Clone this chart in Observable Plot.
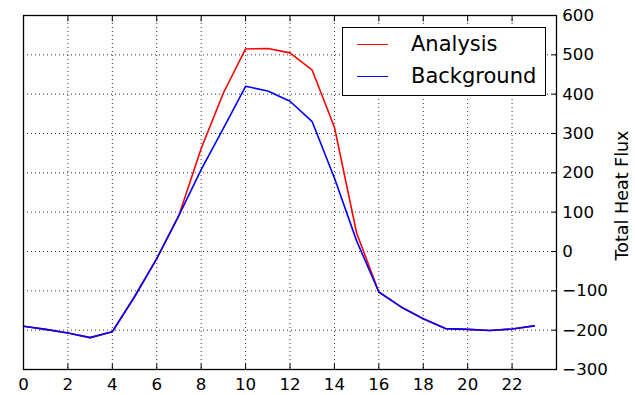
<!DOCTYPE html>
<html>
<head>
<meta charset="utf-8">
<script src="https://cdn.jsdelivr.net/npm/d3@7"></script>
<script src="https://cdn.jsdelivr.net/npm/@observablehq/plot@0.6"></script>
<style>
  html, body { margin: 0; padding: 0; background: #fff; }
  #chart { position: relative; width: 635px; height: 395px; font-family: "DejaVu Sans", sans-serif; }
  #legend { position: absolute; left: 342px; top: 27px; width: 202px; height: 67px; border: 1.3px solid #000; background: #fff; }
  .item { position: absolute; left: 0; height: 24px; font-size: 21px; color: #000; line-height: 24px; }
  .swatch { position: absolute; left: 14px; width: 31px; height: 0; border-top: 1.5px solid; }
  .lab { position: absolute; left: 68px; white-space: nowrap; }
</style>
</head>
<body>
<div id="chart"></div>
<script>
const hours = [0,1,2,3,4,5,6,7,8,9,10,11,12,13,14,15,16,17,18,19,20,21,22,23];
const analysis = [-190,-198,-207,-219,-204,-115,-18,92,262,403,515,516,505,461,316,47,-103,-141,-171,-196,-198,-201,-197,-189];
const background = [-190,-198,-207,-219,-204,-115,-18,92,208,313,420,408,382,330,187,27,-103,-141,-171,-196,-198,-201,-197,-189];
const seriesNames = ["Analysis", "Background"];
const seriesColors = ["#ff0000", "#0000ff"];
const xTicks = [0,2,4,6,8,10,12,14,16,18,20,22];
const yTicks = [-300,-200,-100,0,100,200,300,400,500,600];
const yLabel = "Total Heat Flux";

const rows = [];
hours.forEach((h, i) => {
  rows.push({hour: h, value: analysis[i], series: seriesNames[0]});
  rows.push({hour: h, value: background[i], series: seriesNames[1]});
});

const gridStyle = {stroke: "#000", strokeOpacity: 1, strokeWidth: 0.8, strokeDasharray: "1,3"};

const chart = Plot.plot({
  width: 635,
  height: 395,
  marginLeft: 23,
  marginRight: 79,
  marginTop: 15,
  marginBottom: 26,
  style: {fontFamily: "DejaVu Sans, sans-serif", fontSize: "16.67px", color: "#000", background: "#fff"},
  x: {domain: [0, 24]},
  y: {domain: [-300, 600]},
  color: {domain: seriesNames, range: seriesColors},
  marks: [
    Plot.gridX(xTicks.filter(d => d > 0), gridStyle),
    Plot.gridY(yTicks.filter(d => d > -300 && d < 600), gridStyle),
    Plot.line(rows, {x: "hour", y: "value", z: "series", stroke: "series", strokeWidth: 1.6}),
    Plot.axisX(xTicks.concat([24]), {anchor: "bottom", tickSize: -5.5, tickPadding: 14.5, tickFormat: d => d === 24 ? "" : String(d), stroke: "#000", fill: "#000", label: null}),
    Plot.axisX(xTicks.concat([24]), {anchor: "top", tickSize: -5.5, tickFormat: () => "", stroke: "#000", label: null}),
    Plot.axisY(yTicks, {anchor: "right", tickSize: -5.5, tickPadding: 11.2, stroke: "#000", fill: "#000", label: null}),
    Plot.axisY(yTicks, {anchor: "left", tickSize: 0, tickFormat: () => "", label: null}),
    Plot.text([yLabel], {frameAnchor: "right", textAnchor: "middle", lineAnchor: "middle", dx: 66, dy: 3, rotate: -90, fontSize: 17.5, fill: "#000"}),
    Plot.frame({stroke: "#000", strokeWidth: 1.3})
  ]
});

const container = document.getElementById("chart");
container.appendChild(chart);

const legend = document.createElement("div");
legend.id = "legend";
seriesNames.forEach((name, i) => {
  const item = document.createElement("div");
  item.className = "item";
  item.style.top = (4 + i * 32) + "px";
  item.style.width = "100%";
  const sw = document.createElement("div");
  sw.className = "swatch";
  sw.style.top = "12px";
  sw.style.borderTopColor = seriesColors[i];
  const lab = document.createElement("div");
  lab.className = "lab";
  lab.textContent = name;
  item.appendChild(sw);
  item.appendChild(lab);
  legend.appendChild(item);
});
container.appendChild(legend);
</script>
</body>
</html>
